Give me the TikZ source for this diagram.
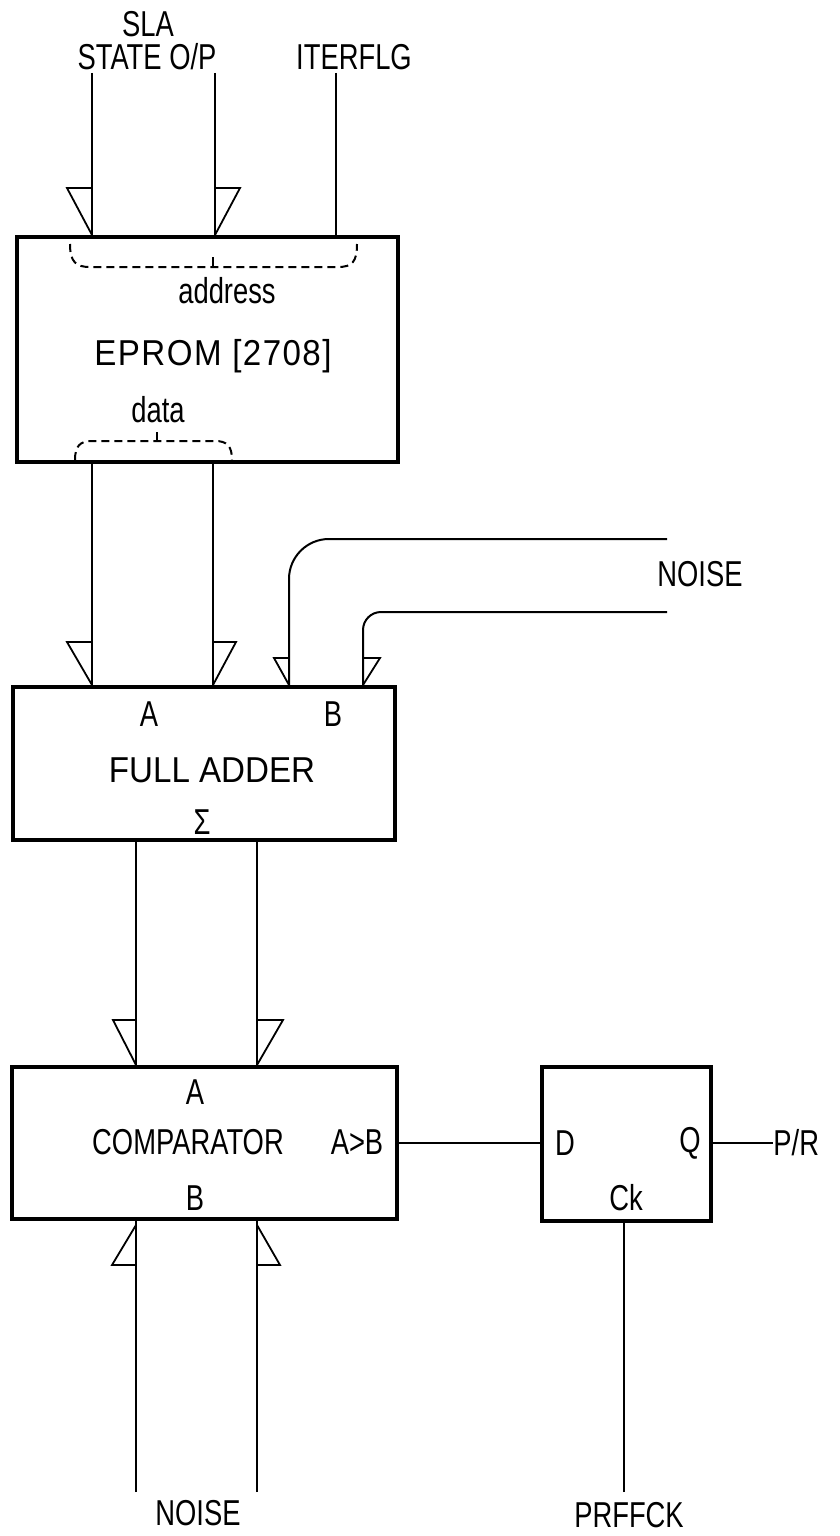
\documentclass[tikz,border=0pt]{standalone}
\usepackage{fontspec}
\setmainfont{Liberation Sans}[FakeStretch=0.76]
\newfontfamily\widefont{Liberation Sans}[FakeStretch=0.92]
\begin{document}
\begin{tikzpicture}[x=0.5pt,y=-0.5pt,
  box/.style={draw, line width=2pt, inner sep=0},
  wire/.style={draw, line width=1pt},
  thinwire/.style={draw, line width=0.7pt},
  tri/.style={draw, line width=0.9pt, line join=miter},
  brace/.style={draw, line width=1pt, dash pattern=on 4pt off 2.5pt},
  lbl/.style={inner sep=0, font=\fontsize{18}{20}\selectfont},
  widelbl/.style={inner sep=0, font=\fontsize{18}{20}\widefont}]
\useasboundingbox (0,0) rectangle (840,1536);

% boxes
\node[box, minimum width=190.5pt, minimum height=112.5pt] (eprom) at (207.5,349.5) {};
\node[box, minimum width=191pt, minimum height=76.5pt] (fa) at (204,763.5) {};
\node[box, minimum width=192.5pt, minimum height=76pt] (cmp) at (204.5,1143) {};
\node[box, minimum width=84.5pt, minimum height=77pt] (ff) at (626.5,1144) {};

% x references
\coordinate (xa) at (92,0);
\coordinate (xd) at (213,0);
\coordinate (xe) at (136,0);
\coordinate (xf) at (257,0);
\coordinate (xn1) at (289,0);
\coordinate (xn2) at (363,0);

% top inputs
\coordinate (s1) at (92,73);
\coordinate (s2) at (215,73);
\coordinate (itf) at (336,73);
\draw[wire] (s1) -- (s1 |- eprom.north);
\draw[wire] (s2) -- (s2 |- eprom.north);
\draw[thinwire] (itf) -- (itf |- eprom.north);
\draw[tri] (s1 |- eprom.north) -- ++(0,-47) -- ++(-25,0) -- cycle;
\draw[tri] (s2 |- eprom.north) -- ++(0,-47) -- ++(25,0) -- cycle;

\node[lbl] (sla) at (148,24) {SLA};
\node[lbl] (stop) at (147,57) {STATE O/P};
\node[lbl] (iter) at (354,57) {ITERFLG};

% eprom inner
\draw[brace] (70,244) .. controls (70,262) and (76,267) .. (90,267) -- (338,267) .. controls (352,267) and (357,262) .. (357,244);
\draw[line width=1pt] (213,267) -- (213,257);
\draw[brace] (75,460) .. controls (75,446) and (80,441) .. (92,441) -- (215,441) .. controls (227,441) and (232,446) .. (232,460);
\draw[line width=1pt] (157,441) -- (157,432);
\node[lbl] (addr) at (227,291) {address};
\node[widelbl, font=\fontsize{18}{20}\widefont\addfontfeatures{LetterSpace=4}] (eplbl) at (213,356) {EPROM [2708]};
\node[lbl] (data) at (158,410) {data};

% eprom -> adder
\draw[wire] (xa |- eprom.south) -- (xa |- fa.north);
\draw[wire] (xd |- eprom.south) -- (xd |- fa.north);
\draw[tri] (xa |- fa.north) -- ++(0,-43) -- ++(-25,0) -- cycle;
\draw[tri] (xd |- fa.north) -- ++(0,-43) -- ++(23,0) -- cycle;

% noise to adder
\coordinate (n1) at (667,539);
\coordinate (n2) at (667,612);
\draw[wire, rounded corners=20pt] (n1) -- (n1 -| xn1) -- (xn1 |- fa.north);
\draw[wire, rounded corners=9pt] (n2) -- (n2 -| xn2) -- (xn2 |- fa.north);
\draw[tri] (xn1 |- fa.north) -- ++(0,-27) -- ++(-15,0) -- cycle;
\draw[tri] (xn2 |- fa.north) -- ++(0,-27) -- ++(17,0) -- cycle;
\node[lbl] (noise1) at (700,574) {NOISE};

% adder labels
\node[lbl] (faA) at (149,714) {A};
\node[lbl] (faB) at (333,714) {B};
\node[widelbl] (falbl) at (212,770) {FULL ADDER};
\node[lbl] (fasig) at (202,822) {Σ};

% adder -> comparator
\draw[wire] (xe |- fa.south) -- (xe |- cmp.north);
\draw[wire] (xf |- fa.south) -- (xf |- cmp.north);
\draw[tri] (xe |- cmp.north) -- ++(0,-45) -- ++(-23,0) -- cycle;
\draw[tri] (xf |- cmp.north) -- ++(0,-45) -- ++(26,0) -- cycle;

% comparator labels
\node[lbl] (cA) at (195,1092) {A};
\node[lbl] (clbl) at (188,1142) {COMPARATOR};
\node[lbl] (cgt) at (357,1142) {A>B};
\node[lbl] (cB) at (195,1198) {B};

% bottom noise inputs
\coordinate (b1) at (136,1492);
\coordinate (b2) at (257,1492);
\draw[wire] (b1) -- (b1 |- cmp.south);
\draw[wire] (b2) -- (b2 |- cmp.south);
\draw[tri] ([yshift=-2pt]b1 |- cmp.south) -- ++(0,40) -- ++(-24,0) -- cycle;
\draw[tri] ([yshift=-2pt]b2 |- cmp.south) -- ++(0,40) -- ++(23,0) -- cycle;
\node[lbl] (noise2) at (198,1513) {NOISE};

% comparator -> flip flop
\draw[wire] (cmp.east) -- (ff.west |- cmp.east);
\node[lbl] (ffD) at (565,1143) {D};
\node[lbl] (ffQ) at (690,1143) {Q};
\node[lbl] (ffck) at (626,1198) {Ck};

% output
\node[lbl, anchor=west] (pr) at (773,1143) {P/R};
\draw[wire] (ff.east |- pr.west) -- (pr.west);

% clock
\coordinate (ck) at (624,1492);
\draw[wire] (ck) -- (ck |- ff.south);
\node[lbl] (prffck) at (629,1515) {PRFFCK};
\end{tikzpicture}
\end{document}
